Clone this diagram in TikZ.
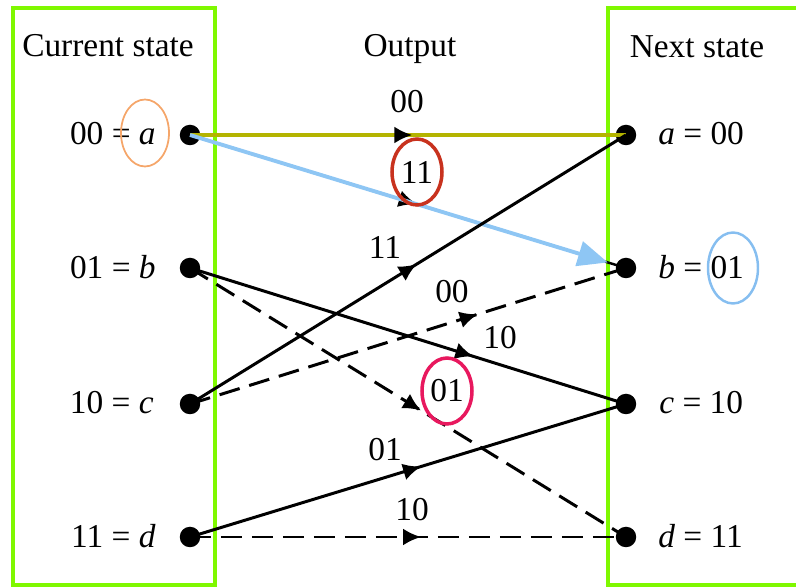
\documentclass[tikz,border=0pt]{standalone}
\usepackage{fontspec}
\setmainfont{Liberation Serif}
\usetikzlibrary{arrows.meta, decorations.markings, shapes.geometric}
\definecolor{boxGreen}{HTML}{7FF800}
\definecolor{pathOlive}{HTML}{B4B400}
\definecolor{pathBlue}{HTML}{8EC6F4}
\definecolor{ringOrange}{HTML}{F5A66A}
\definecolor{ringRed}{HTML}{C8321E}
\definecolor{ringPink}{HTML}{E8185E}
\definecolor{ringBlue}{HTML}{86BEF0}
\tikzset{
  panel/.style     = {draw=boxGreen, line width=2.4pt},
  dot/.style       = {circle, fill=black, inner sep=0pt, minimum size=0.41cm},
  title/.style     = {font=\fontsize{19}{23}\selectfont, inner sep=0pt},
  statelbl/.style  = {font=\fontsize{19}{23}\selectfont, inner sep=0pt},
  outlbl/.style    = {font=\fontsize{19}{23}\selectfont, inner sep=0pt},
  ring/.style      = {ellipse, line width=2pt, minimum width=1.0cm,
                      minimum height=1.32cm, inner sep=0pt},
  branch/.style    = {line width=1.7pt},
  dashbranch/.style= {line width=1.7pt, dash pattern=on 0.42cm off 0.2cm},
  hilite/.style    = {draw=pathBlue, line width=2.2pt,
                      -{Triangle[length=0.6cm,width=0.5cm]}},
  midtip/.style    = {postaction={decorate},
                      decoration={markings, mark=at position #1 with
                      {\arrow{Latex[length=0.36cm,width=0.34cm,color=black]}}}}
}

\begin{document}
\begin{tikzpicture}[x=0.02cm, y=-0.02cm]
\useasboundingbox (0,0) rectangle (796,587);

% panels
\draw[panel] (13,8) rectangle (215,585);
\draw[panel] (810,8) -- (608,8) -- (608,585) -- (810,585);

% headings
\node[title, anchor=base] (curT) at (108,57) {Current state};
\node[title, anchor=base] (outT) at (410,57) {Output};
\node[title, anchor=base] (nxtT) at (697,58) {Next state};

% states
\node[dot] (al) at (190,135) {};
\node[dot] (bl) at (190,268) {};
\node[dot] (cl) at (190,404) {};
\node[dot] (dl) at (190,537) {};
\node[dot] (ar) at (626,135) {};
\node[dot] (br) at (626,268) {};
\node[dot] (cr) at (626,404) {};
\node[dot] (dr) at (626,537) {};

\node[statelbl, anchor=east] (alT) at (156,134) {00 = \textit{a}};
\node[statelbl, anchor=east] (blT) at (156,267) {01 = \textit{b}};
\node[statelbl, anchor=east] (clT) at (154,403) {10 = \textit{c}};
\node[statelbl, anchor=east] (dlT) at (156,536) {11 = \textit{d}};
\node[statelbl, anchor=west] (arT) at (658,134) {\textit{a} = 00};
\node[statelbl, anchor=west] (brT) at (658,267) {\textit{b} = 01};
\node[statelbl, anchor=west] (crT) at (659,403) {\textit{c} = 10};
\node[statelbl, anchor=west] (drT) at (658,536) {\textit{d} = 11};

% branches
\draw[branch, draw=pathOlive, line width=1.9pt, midtip=0.51] (al.center) -- (ar.center);
\draw[dashbranch, line width=1.4pt, midtip=0.52] (al.center) -- (br.center);
\draw[hilite, shorten >=0.38cm, yshift=-0.03cm] (al.center) -- (br.center);
\draw[branch, midtip=0.65] (bl.center) -- (cr.center);
\draw[dashbranch, midtip=0.53] (bl.center) -- (dr.center);
\draw[branch, midtip=0.52] (cl.center) -- (ar.center);
\draw[dashbranch, midtip=0.66] (cl.center) -- (br.center);
\draw[branch, midtip=0.53] (dl.center) -- (cr.center);
\draw[dashbranch, midtip=0.53] (dl.center) -- (dr.center);

% outputs
\node[outlbl] (oAA) at (407,102) {00};
\node[outlbl, ring, draw=ringRed] (oAB) at (417,172) {11};
\node[outlbl] (oCA) at (385,247) {11};
\node[outlbl] (oCB) at (452,292) {00};
\node[outlbl] (oBC) at (500,338) {10};
\node[outlbl, ring, draw=ringPink] (oBD) at (447,391) {01};
\node[outlbl] (oDC) at (385,450) {01};
\node[outlbl] (oDD) at (412,510) {10};

% marks
\node[ring, draw=ringOrange, line width=1pt, minimum width=0.96cm, minimum height=1.34cm] (ringA) at (145,133) {};
\node[ring, draw=ringBlue, line width=1.4pt, minimum height=1.42cm] (ringB) at (733,268) {};
\end{tikzpicture}
\end{document}
